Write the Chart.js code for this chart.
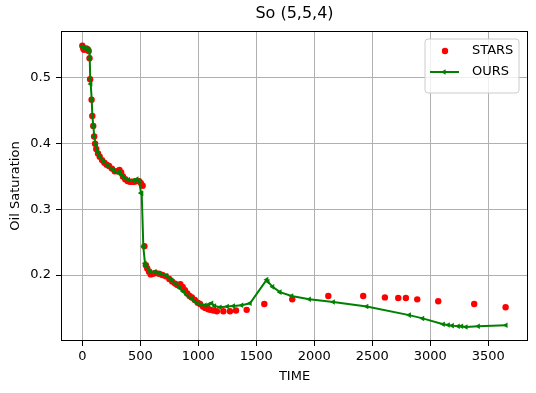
<!DOCTYPE html>
<html><head><meta charset="utf-8">
<script src="https://cdn.jsdelivr.net/npm/chart.js@4.4.0/dist/chart.umd.min.js"></script>
<style>html,body{margin:0;padding:0;background:#fff}canvas{display:block}</style>
</head><body>
<canvas id="c" width="536" height="393"></canvas>
<script>
const starsTime = [0,8,15,25,35,45,55,62,67,80,86,94,102,110,120,135,150,170,190,210,230,255,280,305,320,335,350,370,390,410,430,450,470,490,505,520,535,548,560,575,590,610,630,660,690,720,750,775,800,820,845,865,885,905,925,945,970,995,1015,1040,1060,1085,1105,1130,1160,1216,1273,1325,1417,1569,1810,2121,2422,2609,2724,2790,2888,3069,3379,3650];
const starsSo = [0.549,0.545,0.543,0.544,0.545,0.543,0.541,0.530,0.498,0.467,0.442,0.427,0.411,0.400,0.392,0.385,0.380,0.375,0.371,0.368,0.366,0.362,0.358,0.358,0.360,0.356,0.350,0.346,0.343,0.342,0.342,0.342,0.343,0.343,0.340,0.336,0.244,0.215,0.210,0.205,0.201,0.202,0.203,0.202,0.200,0.198,0.194,0.190,0.187,0.185,0.186,0.182,0.177,0.172,0.168,0.166,0.162,0.158,0.156,0.152,0.150,0.148,0.147,0.146,0.145,0.145,0.145,0.146,0.147,0.156,0.163,0.168,0.168,0.166,0.165,0.165,0.163,0.160,0.156,0.151];
const oursTime = [0,10,20,30,40,50,58,64,68,72,81,86,95,103,115,129,153,181,224,267,300,319,340,360,397,440,470,490,506,512,526,540,555,584,627,670,727,771,814,840,870,900,940,986,1020,1058,1090,1115,1140,1187,1250,1302,1374,1446,1590,1600,1641,1704,1805,1957,2164,2452,2819,2934,3112,3155,3190,3241,3270,3308,3414,3653];
const oursSo = [0.548,0.546,0.545,0.545,0.544,0.544,0.543,0.530,0.498,0.491,0.467,0.443,0.426,0.411,0.398,0.388,0.380,0.373,0.366,0.360,0.356,0.357,0.352,0.348,0.345,0.344,0.346,0.343,0.325,0.324,0.243,0.218,0.213,0.205,0.205,0.202,0.199,0.192,0.186,0.180,0.175,0.170,0.164,0.158,0.155,0.154,0.155,0.157,0.153,0.151,0.152,0.153,0.154,0.157,0.193,0.190,0.182,0.174,0.168,0.163,0.159,0.152,0.139,0.134,0.125,0.124,0.123,0.122,0.122,0.121,0.122,0.1235];
const xTicks = [0,500,1000,1500,2000,2500,3000,3500];
const yTicks = [0.2,0.3,0.4,0.5];

const F = 'DejaVu Sans';
const tickFont = {family:F, size:13};

const framePlugin = {
  id:'frame',
  afterDraw(chart){
    const {ctx, chartArea:a} = chart;
    ctx.save();
    ctx.strokeStyle = '#000'; ctx.lineWidth = 1;
    ctx.strokeRect(a.left+0.5, a.top+0.5, a.right-a.left-1, a.bottom-a.top-1);
    // legend
    const lx = a.right-103, ly = a.top+8, lw = 94, lh = 54, r = 3;
    ctx.beginPath();
    ctx.moveTo(lx+r, ly); ctx.lineTo(lx+lw-r, ly); ctx.quadraticCurveTo(lx+lw, ly, lx+lw, ly+r);
    ctx.lineTo(lx+lw, ly+lh-r); ctx.quadraticCurveTo(lx+lw, ly+lh, lx+lw-r, ly+lh);
    ctx.lineTo(lx+r, ly+lh); ctx.quadraticCurveTo(lx, ly+lh, lx, ly+lh-r);
    ctx.lineTo(lx, ly+r); ctx.quadraticCurveTo(lx, ly, lx+r, ly);
    ctx.closePath();
    ctx.fillStyle = 'rgba(255,255,255,0.8)'; ctx.fill();
    ctx.strokeStyle = '#cccccc'; ctx.stroke();
    const y1 = ly+12, y2 = ly+33;
    ctx.fillStyle = '#ff0000';
    ctx.beginPath(); ctx.arc(lx+20, y1, 3.2, 0, Math.PI*2); ctx.fill();
    ctx.strokeStyle = '#008000'; ctx.lineWidth = 2;
    ctx.beginPath(); ctx.moveTo(lx+5, y2); ctx.lineTo(lx+34, y2); ctx.stroke();
    ctx.fillStyle = '#008000';
    const tx = lx+19, tr = 3.2;
    ctx.beginPath(); ctx.moveTo(tx-tr, y2); ctx.lineTo(tx+tr*0.5, y2-tr*0.87); ctx.lineTo(tx+tr*0.5, y2+tr*0.87); ctx.closePath(); ctx.fill();
    ctx.fillStyle = '#000'; ctx.font = '13px "DejaVu Sans"'; ctx.textBaseline = 'middle'; ctx.textAlign = 'left';
    ctx.fillText('STARS', lx+47, y1);
    ctx.fillText('OURS', lx+47, y2);
    ctx.restore();
  }
};

new Chart(document.getElementById('c').getContext('2d'), {
  type: 'scatter',
  data: { datasets: [
    { label:'OURS', data: oursTime.map((t,i)=>({x:t, y:oursSo[i]})), showLine:true,
      borderColor:'#008000', backgroundColor:'#008000', borderWidth:2,
      pointStyle:'triangle', rotation:-90, pointRadius:3.2, pointBorderWidth:0, order:0 },
    { label:'STARS', data: starsTime.map((t,i)=>({x:t, y:starsSo[i]})), showLine:false,
      borderColor:'#ff0000', backgroundColor:'#ff0000', pointRadius:3.2, pointBorderWidth:0, order:1 }
  ]},
  options: {
    responsive:false, animation:false, devicePixelRatio:1,
    layout:{padding:{left:0, right:8, top:0, bottom:0}},
    plugins:{
      legend:{display:false}, tooltip:{enabled:false},
      title:{display:true, text:'So (5,5,4)', fullSize:false, color:'#000',
        font:{family:F, size:16, weight:'normal'}, padding:{top:4.4, bottom:7.4}}
    },
    scales:{
      x:{type:'linear', min:-184, max:3843,
        afterBuildTicks: s => { s.ticks = xTicks.map(v=>({value:v})); },
        afterFit: s => { s.height = 52; },
        ticks:{callback: v => String(v), color:'#000', font:tickFont, padding:3, maxRotation:0, autoSkip:false},
        grid:{color:'#b0b0b0', lineWidth:1, tickColor:'#000', tickLength:5},
        border:{display:false},
        title:{display:true, text:'TIME', color:'#000', font:tickFont, padding:{top:0, bottom:9}}
      },
      y:{type:'linear', min:0.0996, max:0.5715,
        afterBuildTicks: s => { s.ticks = yTicks.map(v=>({value:v})); },
        afterFit: s => { s.width = 61; },
        ticks:{callback: v => Number(v).toFixed(1), color:'#000', font:tickFont, padding:5, autoSkip:false},
        grid:{color:'#b0b0b0', lineWidth:1, tickColor:'#000', tickLength:5},
        border:{display:false},
        title:{display:true, text:'Oil Saturation', color:'#000', font:tickFont, padding:{top:8, bottom:0}}
      }
    }
  },
  plugins:[framePlugin]
});
</script>
</body></html>
